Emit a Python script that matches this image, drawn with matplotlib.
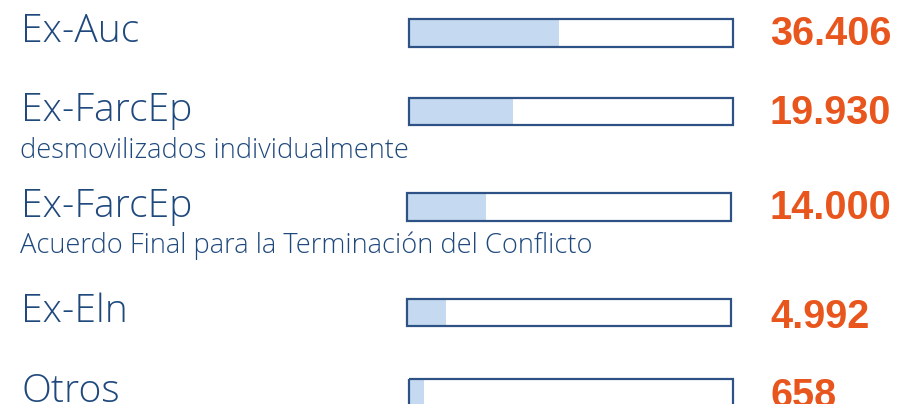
import matplotlib
matplotlib.use("Agg")
import matplotlib.pyplot as plt

# ---- data ----
categories = ["Ex-Auc", "Ex-FarcEp", "Ex-FarcEp", "Ex-Eln", "Otros"]
subtitles = ["", "desmovilizados individualmente",
             "Acuerdo Final para la Terminación del Conflicto", "", ""]
values = [36406, 19930, 14000, 4992, 658]
value_labels = ["36.406", "19.930", "14.000", "4.992", "658"]
fill_pct = [46.6, 32.1, 24.6, 12.3, 4.9]   # bar fill level as drawn (percent)

# ---- layout (pixels) ----
W, H = 897, 404
label_base = [42, 121.5, 217, 322, 402]
sub_base = [0, 158, 253, 0, 0]
num_base = [45, 124, 219, 328, 407]
bar_center = [33, 111.5, 207, 312.5, 392.5]
bar_left = [408.5, 408.5, 406.5, 406.5, 408.5]
bar_w = 324
bar_h = 27.5

blue_txt = "#1F497D"
edge = "#2F5286"
fill_c = "#C5DAF0"
orange = "#E8561E"

fig = plt.figure(figsize=(W / 100, H / 100), dpi=100)
ax = fig.add_axes([0, 0, 1, 1])
ax.set_xlim(0, W)
ax.set_ylim(H, 0)
ax.axis("off")

for i, cat in enumerate(categories):
    ax.text(21, label_base[i], cat, fontsize=28.1, family="Open Sans",
            fontweight=300, color=blue_txt, va="baseline", ha="left")
    if subtitles[i]:
        ax.text(20.5, sub_base[i], subtitles[i], fontsize=19.6, family="Open Sans",
                fontweight=300, color=blue_txt, va="baseline", ha="left")
    # fill
    ax.barh(bar_center[i], fill_pct[i] / 100 * bar_w, height=bar_h,
            left=bar_left[i], color=fill_c, edgecolor="none", zorder=2)
    # frame
    ax.barh(bar_center[i], bar_w, height=bar_h, left=bar_left[i],
            fill=False, edgecolor=edge, linewidth=1.6, zorder=3)
    ax.text(770, num_base[i], value_labels[i], fontsize=28.5,
            family="Liberation Sans", fontweight="bold", color=orange,
            va="baseline", ha="left")

fig.savefig("out.png", dpi=100)
